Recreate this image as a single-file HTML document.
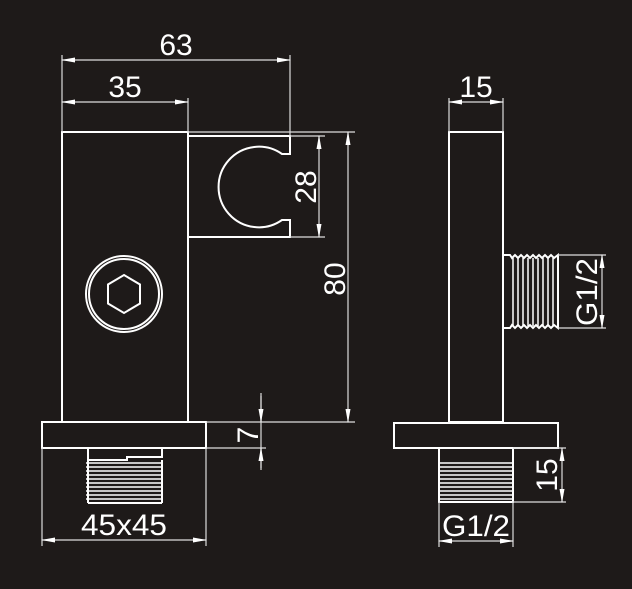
<!DOCTYPE html>
<html><head><meta charset="utf-8"><style>html,body{margin:0;padding:0;background:#1e1a19;}svg{display:block}</style></head>
<body>
<svg width="632" height="589" viewBox="0 0 632 589" xmlns="http://www.w3.org/2000/svg">
<defs>
<marker id="a" markerWidth="14" markerHeight="8" refX="13" refY="4" orient="auto-start-reverse" markerUnits="userSpaceOnUse"><path d="M0,1.5 L14,4 L0,6.5 z" fill="#fff"/></marker>
</defs>
<rect width="632" height="589" fill="#1e1a19"/>
<g stroke="#fff" fill="none" stroke-width="2">
<rect x="62" y="132" width="126" height="290"/>
<path d="M188,136 H290 V154 H282 A40.3,40.3 0 1 0 282,220 H290 V237 H188"/>
<rect x="42" y="422" width="164" height="26"/>
<circle cx="124" cy="294" r="38"/>
<circle cx="124" cy="294" r="35"/>
<polygon points="124,275 140,284.5 140,303.5 124,313 108,303.5 108,284.5"/>
<path d="M88,448 V460 H127 V457 H162 V448"/>
<path d="M162,460 V503 M88,460 V503 M88,503 H162"/>
</g>
<g stroke="#fff" stroke-width="1.5" fill="none">
<path d="M86,463 H163 M86,467 H163 M86,471 H163 M86,475 H163 M86,479 H163 M86,483 H163 M86,487 H163 M86,491 H163 M86,495 H163 M86,499 H163"/>
<path d="M440,463 H514 M440,467 H514 M440,471 H514 M440,475 H514 M440,479 H514 M440,483 H514 M440,487 H514 M440,491 H514 M440,495 H514 M440,499 H514"/>
<path d="M513,258 V326 M518,258 V326 M523,258 V326 M528,258 V326 M533,258 V326 M538,258 V326 M543,258 V326 M548,258 V326 M553,258 V326"/>
</g>
<g stroke="#fff" stroke-width="2" fill="none">
<rect x="449" y="132" width="54" height="290"/>
<rect x="394" y="423" width="164" height="25"/>
<path d="M439,448 V502 H513 V448"/>
<path d="M503,255 H510 L512,258 L515,255 L518,258 L521,255 L524,258 L527,255 L530,258 L533,255 L536,258 L539,255 L542,258 L545,255 L548,258 L551,255 L554,258 L558,255 V328 L554,325 L551,328 L548,325 L545,328 L542,325 L539,328 L536,325 L533,328 L530,325 L527,328 L524,325 L521,328 L518,325 L515,328 L512,325 L510,328 H503"/>
</g>
<g stroke="#ddd" stroke-width="1.2" fill="none">
<path d="M62,55 V132 M290,55 V136 M188,98 V132 M188,132 H355 M206,422 H355 M290,136 H325 M290,237 H325 M206,448 H266 M42,448 V546 M206,448 V546 M261,393 V470 M449,98 V132 M503,98 V132 M558,255 H606 M558,328 H606 M513,448 H566 M513,502 H566 M439,502 V547 M513,502 V547"/>
<path d="M62,60 H290" marker-start="url(#a)" marker-end="url(#a)"/>
<path d="M62,102 H188" marker-start="url(#a)" marker-end="url(#a)"/>
<path d="M319,136 V237" marker-start="url(#a)" marker-end="url(#a)"/>
<path d="M348,132 V422" marker-start="url(#a)" marker-end="url(#a)"/>
<path d="M42,540 H206" marker-start="url(#a)" marker-end="url(#a)"/>
<path d="M261,396 V422" marker-end="url(#a)"/>
<path d="M261,468 V448" marker-end="url(#a)"/>
<path d="M449,102 H503" marker-start="url(#a)" marker-end="url(#a)"/>
<path d="M602,255 V328" marker-start="url(#a)" marker-end="url(#a)"/>
<path d="M562,448 V502" marker-start="url(#a)" marker-end="url(#a)"/>
<path d="M439,541 H513" marker-start="url(#a)" marker-end="url(#a)"/>
</g>
<g fill="#fff" font-family="Liberation Sans, sans-serif" font-size="30" text-anchor="middle">
<text x="176" y="55">63</text>
<text x="125" y="97">35</text>
<text x="124" y="535" textLength="86" lengthAdjust="spacingAndGlyphs">45x45</text>
<text x="476" y="97">15</text>
<text x="476" y="536" textLength="68" lengthAdjust="spacingAndGlyphs">G1/2</text>
<text transform="translate(316,187) rotate(-90)">28</text>
<text transform="translate(345,279) rotate(-90)">80</text>
<text transform="translate(258,435) rotate(-90)">7</text>
<text transform="translate(597,292) rotate(-90)" textLength="68" lengthAdjust="spacingAndGlyphs">G1/2</text>
<text transform="translate(557,475) rotate(-90)">15</text>
</g>
</svg>
</body></html>
